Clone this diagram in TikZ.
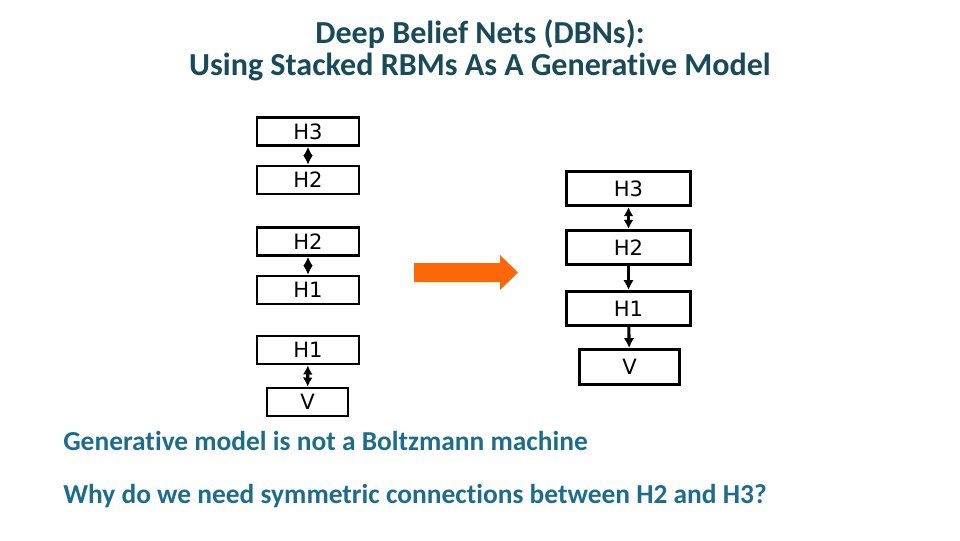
\documentclass[tikz,border=0pt]{standalone}
\usepackage{fontspec}
\setmainfont{Carlito}[Ligatures=NoCommon]
\newfontfamily\layerfont{DejaVu Sans}
\usetikzlibrary{arrows.meta, positioning}
\definecolor{titleteal}{RGB}{24,74,90}
\definecolor{noteblue}{RGB}{30,108,140}
\definecolor{pushorange}{RGB}{252,104,8}
\tikzset{
    layer/.style={draw, line width=1.9pt, inner sep=0pt,
        font=\layerfont\fontsize{15}{17}\selectfont},
    smalllayer/.style={layer, minimum width=2.55cm, minimum height=0.7cm},
    biglayer/.style={layer, line width=2.2pt, minimum width=3.1cm, minimum height=0.85cm},
    linkboth/.style={{Latex[length=6.5pt,width=7pt]}-{Latex[length=6.5pt,width=7pt]}, line width=2.2pt},
    linkdown/.style={-{Latex[length=7pt,width=7.5pt]}, line width=2.2pt},
    titletext/.style={text=titleteal, font=\bfseries\fontsize{22.8}{22.8}\selectfont, align=center},
    notetext/.style={text=noteblue, inner sep=0pt, font=\bfseries\fontsize{19.5}{22}\selectfont, anchor=base west}
}

\begin{document}
\begin{tikzpicture}[x=0.025cm, y=-0.025cm]
    \useasboundingbox (0,0) rectangle (960,540);
    % title
    \node[titletext] (title) at (480,50) {Deep Belief Nets (DBNs):\\Using Stacked RBMs As A Generative Model};
    % stacked RBMs
    \node[smalllayer] (lH3) at (308,131.5) {H3};
    \node[smalllayer] (lH2a) at (308,180) {H2};
    \node[smalllayer] (lH2b) at (308,241.5) {H2};
    \node[smalllayer] (lH1a) at (308,290) {H1};
    \node[smalllayer] (lH1b) at (308,350) {H1};
    \node[smalllayer, minimum width=2.025cm] (lV) at (307.5,402) {V};
    \draw[linkboth] (lH3) -- (lH2a);
    \draw[linkboth] (lH2b) -- (lH1a);
    \draw[linkboth] (lH1b) -- (lV);
    % orange arrow
    \fill[pushorange] (414,263) -- (500,263) -- (500,255) -- (518,272.5) -- (500,290) -- (500,282) -- (414,282) -- cycle;
    % generative model
    \node[biglayer] (rH3) at (628.5,188.5) {H3};
    \node[biglayer] (rH2) at (628.5,247.5) {H2};
    \node[biglayer] (rH1) at (628.5,308.5) {H1};
    \node[biglayer, minimum width=2.5cm, minimum height=0.875cm] (rV) at (629.5,367) {V};
    \draw[linkboth] (rH3) -- (rH2);
    \draw[linkdown] (rH2) -- (rH1);
    \draw[linkdown] (rH1) -- (rV);
    % notes
    \node[notetext] (note1) at (63,450) {Generative model is not a Boltzmann machine};
    \node[notetext] (note2) at (63,503) {Why do we need symmetric connections between H2 and H3?};
\end{tikzpicture}
\end{document}
